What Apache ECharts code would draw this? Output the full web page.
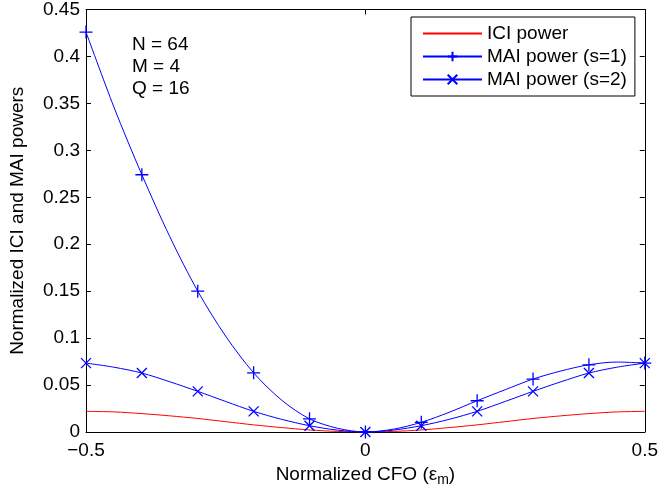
<!DOCTYPE html>
<html><head><meta charset="utf-8">
<script src="https://cdn.jsdelivr.net/npm/echarts@6/dist/echarts.min.js"></script>
<style>html,body{margin:0;padding:0;background:#fff}#c{width:661px;height:495px}</style>
</head><body><div id="c"></div>
<script>
// Normalized CFO values (every 0.05)
var cfo = [-0.5,-0.45,-0.4,-0.35,-0.3,-0.25,-0.2,-0.15,-0.1,-0.05,0,0.05,0.1,0.15,0.2,0.25,0.3,0.35,0.4,0.45,0.5];
// ICI power
var iciPower = [0.0220,0.0214,0.0196,0.0172,0.0144,0.0110,0.0076,0.0047,0.0022,0.0006,0,0.0006,0.0022,0.0047,0.0076,0.0110,0.0144,0.0172,0.0196,0.0214,0.0220];
// MAI power (s=1)
var maiS1 = [0.426,0.346,0.274,0.208,0.150,0.102,0.063,0.034,0.014,0.004,0,0.003,0.0103,0.021,0.0333,0.045,0.0564,0.065,0.0716,0.0745,0.0734];
// MAI power (s=2)
var maiS2 = [0.0734,0.0690,0.0628,0.0535,0.0433,0.0325,0.0220,0.0135,0.0067,0.0020,0,0.0020,0.0067,0.0135,0.0220,0.0325,0.0433,0.0535,0.0628,0.0690,0.0734];
var seriesNames = ['ICI power','MAI power (s=1)','MAI power (s=2)'];
var xTicks = [-0.5, 0, 0.5];
var yTicks = [0,0.05,0.1,0.15,0.2,0.25,0.3,0.35,0.4,0.45];
var annotation = ['N = 64','M = 4','Q = 16'];

var FONT = "'Liberation Sans', Arial, Helvetica, sans-serif";
function pairs(vals, marked) {
  return cfo.map(function (x, i) {
    var d = {value: [x, vals[i]]};
    if (marked && i % 2 === 1) d.symbol = 'none';
    return d;
  });
}
function fmt(v) { return String(v).replace('-', '\u2212'); }

var chart = echarts.init(document.getElementById('c'), null, {renderer: 'canvas'});
function axisCommon() {
  return {
    axisLine: {show: true, onZero: false, lineStyle: {color: '#000', width: 1}},
    axisTick: {show: true, inside: true, length: 5, lineStyle: {color: '#000'}},
    splitLine: {show: false}
  };
}
chart.setOption({
  animation: false,
  backgroundColor: '#fff',
  textStyle: {fontFamily: FONT},
  grid: {left: 81, right: 13, top: 7, bottom: 63},
  legend: {
    data: [
      {name: seriesNames[0], itemStyle: {color: 'rgba(0,0,0,0)', borderColor: 'rgba(0,0,0,0)', borderWidth: 0}},
      {name: seriesNames[1]},
      {name: seriesNames[2]}
    ],
    orient: 'vertical', left: 411, top: 17,
    padding: [5, 8, 5, 11], itemGap: 0,
    itemWidth: 59, itemHeight: 12,
    backgroundColor: '#fff', borderColor: '#000', borderWidth: 1,
    textStyle: {fontFamily: FONT, fontSize: 19, color: '#000', lineHeight: 23}
  },
  graphic: [{
    type: 'text', left: 132, top: 34,
    style: {text: annotation.join('\n'), font: '19px ' + FONT, fill: '#000', lineHeight: 22}
  }],
  xAxis: [
    Object.assign({
      type: 'value', min: -0.5, max: 0.5, interval: 0.5, position: 'bottom',
      axisLabel: {color: '#000', fontSize: 19, fontFamily: FONT, margin: 9, formatter: fmt},
      name: 'Normalized CFO (\u03b5{sub|m})', nameLocation: 'middle', nameGap: 27,
      nameTextStyle: {color: '#000', fontSize: 19, fontFamily: FONT,
        rich: {sub: {fontSize: 14, fontFamily: FONT, color: '#000', verticalAlign: 'bottom', padding: [12, 0, 0, 0]}}}
    }, axisCommon()),
    Object.assign({
      type: 'value', min: -0.5, max: 0.5, interval: 0.5, position: 'top',
      axisLabel: {show: false}
    }, axisCommon())
  ],
  yAxis: [
    Object.assign({
      type: 'value', min: 0, max: 0.45, interval: 0.05, position: 'left',
      axisLabel: {color: '#000', fontSize: 19, fontFamily: FONT, margin: 6, formatter: fmt},
      name: 'Normalized ICI and MAI powers', nameLocation: 'middle', nameGap: 59,
      nameTextStyle: {color: '#000', fontSize: 19, fontFamily: FONT}
    }, axisCommon()),
    Object.assign({
      type: 'value', min: 0, max: 0.45, interval: 0.05, position: 'right',
      axisLabel: {show: false}
    }, axisCommon())
  ],
  series: [
    {
      name: seriesNames[0], type: 'line', smooth: 0.3,
      symbol: 'circle', showSymbol: false,
      lineStyle: {color: '#ff0000', width: 1},
      itemStyle: {color: '#ff0000'},
      data: pairs(iciPower, false), z: 2
    },
    {
      name: seriesNames[1], type: 'line', smooth: 0.3,
      symbol: 'path://M5,0L5,10M0,5L10,5', symbolSize: 13, showAllSymbol: true,
      lineStyle: {color: '#0000ff', width: 1},
      itemStyle: {color: '#0000ff', borderColor: '#0000ff', borderWidth: 1.3},
      data: pairs(maiS1, true), z: 3
    },
    {
      name: seriesNames[2], type: 'line', smooth: 0.3,
      symbol: 'path://M0,0L10,10M10,0L0,10', symbolSize: 10, showAllSymbol: true,
      lineStyle: {color: '#0000ff', width: 1},
      itemStyle: {color: '#0000ff', borderColor: '#0000ff', borderWidth: 1.3},
      data: pairs(maiS2, true), z: 3
    }
  ]
});
</script></body></html>
